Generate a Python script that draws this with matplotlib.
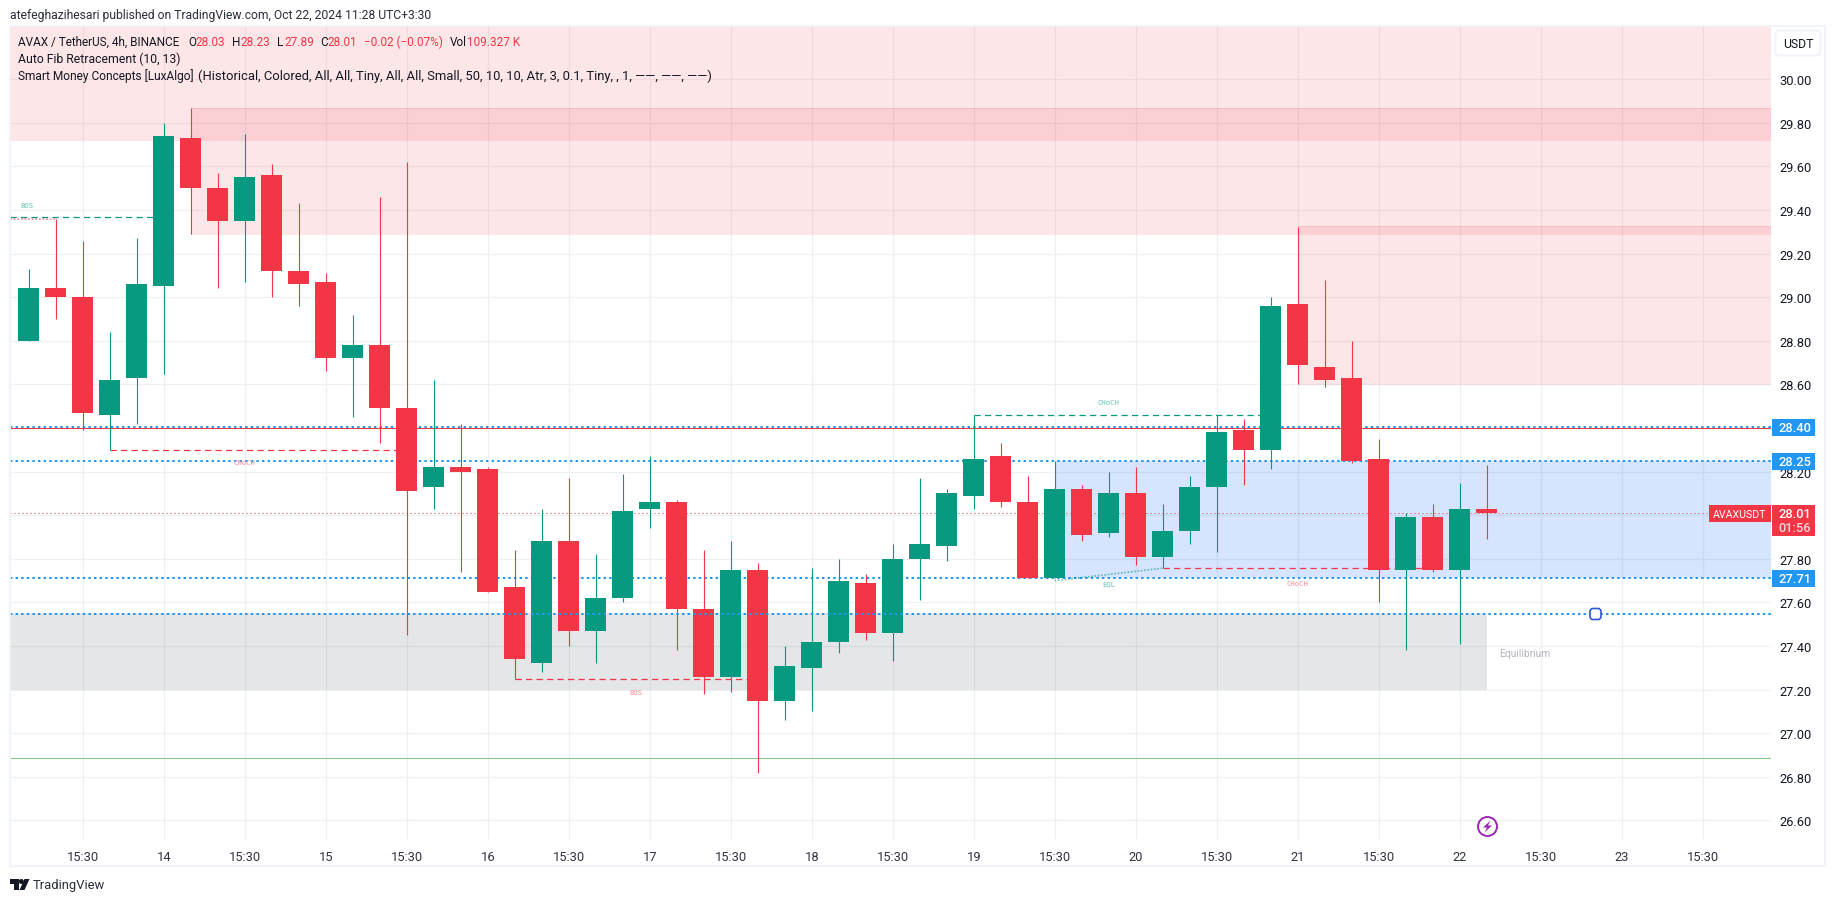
import matplotlib
matplotlib.use('Agg')
import matplotlib.pyplot as plt
from matplotlib.patches import Rectangle, FancyBboxPatch, Polygon, Circle

W, H = 1835, 903

# candles
opens = [28.80, 29.04, 29.00, 28.46, 28.63, 29.05, 29.73, 29.50, 29.35, 29.56, 29.12, 29.07, 28.72, 28.78,
         28.49, 28.13, 28.22, 28.21, 27.67, 27.32, 27.88, 27.47, 27.62, 28.03, 28.06, 27.57, 27.26, 27.75,
         27.15, 27.30, 27.42, 27.69, 27.46, 27.80, 27.86, 28.09, 28.27, 28.06, 27.71, 28.12, 27.92, 28.10,
         27.81, 27.93, 28.13, 28.39, 28.30, 28.97, 28.68, 28.63, 28.26, 27.75, 27.99, 27.75, 28.03]
highs = [29.13, 29.36, 29.26, 28.84, 29.27, 29.80, 29.87, 29.57, 29.75, 29.61, 29.43, 29.11, 28.92, 29.46,
         29.62, 28.62, 28.42, 28.22, 27.84, 28.03, 28.17, 27.82, 28.19, 28.27, 28.07, 27.84, 27.88, 27.78,
         27.40, 27.76, 27.80, 27.73, 27.87, 28.17, 28.12, 28.46, 28.33, 28.18, 28.25, 28.14, 28.20, 28.22,
         28.05, 28.18, 28.46, 28.44, 29.00, 29.32, 29.08, 28.80, 28.35, 28.01, 28.05, 28.15, 28.23]
lows = [28.80, 28.90, 28.39, 28.30, 28.42, 28.65, 29.29, 29.04, 29.07, 29.00, 28.96, 28.66, 28.45, 28.33,
        27.45, 28.03, 27.74, 27.65, 27.25, 27.28, 27.40, 27.32, 27.60, 27.94, 27.38, 27.18, 27.19, 26.82,
        27.06, 27.10, 27.37, 27.43, 27.33, 27.61, 27.79, 28.03, 28.04, 27.71, 27.71, 27.88, 27.90, 27.77,
        27.76, 27.87, 27.83, 28.14, 28.21, 28.60, 28.59, 28.24, 27.60, 27.38, 27.74, 27.41, 27.89]
closes = [29.04, 29.00, 28.47, 28.62, 29.06, 29.74, 29.50, 29.35, 29.55, 29.12, 29.06, 28.72, 28.78, 28.49,
          28.11, 28.22, 28.20, 27.65, 27.34, 27.88, 27.47, 27.62, 28.02, 28.06, 27.57, 27.26, 27.75, 27.15,
          27.31, 27.42, 27.70, 27.46, 27.80, 27.87, 28.10, 28.26, 28.06, 27.71, 28.12, 27.91, 28.10, 27.81,
          27.93, 28.13, 28.38, 28.30, 28.96, 28.69, 28.62, 28.25, 27.75, 27.99, 27.75, 28.03, 28.01]

price_ticks = [26.6, 26.8, 27.0, 27.2, 27.4, 27.6, 27.8, 28.0, 28.2, 28.4, 28.6, 28.8, 29.0, 29.2, 29.4, 29.6,
               29.8, 30.0]
# 28.00 and 28.40 sit behind the badges in the reference
price_labels = ['26.60', '26.80', '27.00', '27.20', '27.40', '27.60', '27.80', '', '28.20', '', '28.60', '28.80',
                '29.00', '29.20', '29.40', '29.60', '29.80', '30.00']
time_ticks = [2, 5, 8, 11, 14, 17, 20, 23, 26, 29, 32, 35, 38, 41, 44, 47, 50, 53, 56, 59, 62]
time_labels = ['15:30', '14', '15:30', '15', '15:30', '16', '15:30', '17', '15:30', '18', '15:30', '19', '15:30',
               '20', '15:30', '21', '15:30', '22', '15:30', '23', '15:30']

# fib levels and the last price
fib_levels = [28.405, 28.25, 27.71, 27.547]
fib_labels = ['28.40', '28.25', '27.71']
last_price = 28.01
red_level = 28.40
green_level = 26.885

GREEN = '#089981'
RED = '#f23645'
BLUE = '#2196f3'
GRID = '#eff0f3'
FRAME = '#f0f3fa'
TEXT = '#131722'
DASH = (0, (5, 3.4))
DOTS = (0, (1.2, 1.6))

plt.rcParams['font.family'] = ['Roboto', 'DejaVu Sans']

fig = plt.figure(figsize=(W / 100, H / 100), dpi=100)
ax = fig.add_axes([10 / W, 1 - 840 / H, (1771 - 10) / W, (840 - 27) / H])
ax.set_xlim(-0.693, 64.53)
ax.set_ylim(26.515, 30.244)
for s in ax.spines.values():
    s.set_visible(False)
ax.set_axisbelow(True)
ax.grid(color=GRID, lw=0.9)
ax.yaxis.tick_right()
ax.set_yticks(price_ticks)
ax.set_yticklabels(price_labels, fontsize=9.3, color=TEXT)
ax.set_xticks(time_ticks)
ax.set_xticklabels(time_labels, fontsize=9.3, color='#2f3341')
ax.tick_params(axis='both', length=0, pad=0)
ax.tick_params(axis='y', pad=6)
ax.tick_params(axis='x', pad=8)

# zones
ax.axhspan(29.72, 30.244, color=RED, alpha=0.12, lw=0, zorder=1)
ax.fill_between([6, 64.53], 29.29, 29.87, color=RED, alpha=0.12, lw=0, zorder=1)
ax.fill_between([47, 64.53], 28.60, 29.325, color=RED, alpha=0.12, lw=0, zorder=1)
ax.fill_between([38, 64.53], 27.71, 28.25, color='#2771f5', alpha=0.19, lw=0, zorder=1)
ax.fill_between([-0.693, 54], 27.20, 27.55, color='#787b86', alpha=0.19, lw=0, zorder=1)
for x0, y0, in [(6, 29.87), (6, 29.29), (47, 29.325), (47, 28.60), (-0.693, 29.72)]:
    ax.plot([x0, 64.53], [y0, y0], color=RED, alpha=0.12, lw=0.72, zorder=1.2)

# levels under the candles
for lev in fib_levels[:3]:
    ax.axhline(lev, color=BLUE, lw=1.44, ls=DOTS, zorder=2)
ax.axhline(red_level, color=RED, lw=0.75, zorder=2)
ax.axhline(green_level, color='#81c784', lw=0.75, zorder=2)
ax.axhline(last_price, color=RED, lw=0.72, ls=(0, (1, 3)), zorder=2)

# structure lines
ax.plot([-0.693, 5], [29.37, 29.37], color=GREEN, lw=0.9, ls=DASH, zorder=2)
ax.plot([-0.693, 1], [29.36, 29.36], color=RED, alpha=0.5, lw=1.3, ls=(0, (1, 1)), zorder=2)
ax.plot([3, 14], [28.30, 28.30], color=RED, lw=0.9, ls=DASH, zorder=2)
ax.plot([18, 27], [27.247, 27.247], color=RED, lw=0.9, ls=DASH, zorder=2)
ax.plot([35, 46], [28.46, 28.46], color=GREEN, lw=0.9, ls=DASH, zorder=2)
ax.plot([42, 52], [27.757, 27.757], color=RED, lw=0.9, ls=DASH, zorder=2)
ax.plot([38, 42], [27.70, 27.757], color=GREEN, alpha=0.6, lw=1.2, ls=(0, (1, 1)), zorder=2)

# candles
xs = list(range(len(opens)))
colors = [GREEN if c >= o else RED for o, c in zip(opens, closes)]
ax.vlines(xs, lows, highs, colors=colors, lw=0.8, zorder=3)
ax.bar(xs, [abs(c - o) for o, c in zip(opens, closes)], bottom=[min(o, c) for o, c in zip(opens, closes)],
       width=0.78, color=colors, lw=0, zorder=3.1)

ax.axhline(fib_levels[3], color=BLUE, lw=1.44, ls=DOTS, zorder=4)

# tiny structure labels
small = dict(fontsize=5.2, ha='center', va='center', family='DejaVu Sans Mono', zorder=4)
ax.text(-0.05, 29.425, 'BOS', color='#66c1b3', **small)
ax.text(8.0, 28.245, 'CHoCH', color='#f98b96', **small)
ax.text(22.5, 27.19, 'BOS', color='#f98b96', **small)
ax.text(40.0, 28.52, 'CHoCH', color='#66c1b3', **small)
ax.text(40.0, 27.69, 'EQL', color='#66c1b3', **small)
ax.text(47.0, 27.69, 'CHoCH', color='#f98b96', **small)
ax.text(54.45, 27.37, 'Equilibrium', color='#b2b5be', fontsize=7.4, ha='left', va='center', zorder=4)

# overlay in pixels for the TradingView chrome
ov = fig.add_axes([0, 0, 1, 1], zorder=5)
ov.set_xlim(0, W)
ov.set_ylim(H, 0)
ov.axis('off')
ov.patch.set_alpha(0)


def py(p):
    return H - ax.transData.transform((0, p))[1]


ov.add_patch(Rectangle((10, 26.5), 1815, 841, fill=False, ec=FRAME, lw=1.5))

for lab, lev in zip(fib_labels, fib_levels):
    y = py(lev) + 0.5
    ov.add_patch(Rectangle((1772, y - 8.5), 43, 17, fc=BLUE, ec='none'))
    ov.text(1794.5, y, lab, color='white', fontsize=9.3, fontweight='medium', ha='center', va='center')

y = py(last_price)
ov.add_patch(Rectangle((1772, y - 8), 43, 31, fc=RED, ec='none'))
ov.text(1794.5, y + 0.5, '28.01', color='white', fontsize=9.3, fontweight='medium', ha='center', va='center')
ov.text(1794.5, y + 14.5, '01:56', color='#fcd7da', fontsize=9.3, fontweight='medium', ha='center', va='center')
ov.add_patch(Rectangle((1709, y - 8), 62, 17, fc=RED, ec='none'))
ov.text(1740, y + 0.5, 'AVAXUSDT', color='white', fontsize=7.7, ha='center', va='center')

ov.add_patch(FancyBboxPatch((1775.5, 31.5), 45, 25, boxstyle='round,pad=0,rounding_size=4', fc='white', ec=FRAME,
                            lw=1.5))
ov.text(1798, 44.5, 'USDT', color=TEXT, fontsize=8.8, ha='center', va='center')

ov.add_patch(FancyBboxPatch((1590, py(fib_levels[3]) - 5.5), 11, 11, boxstyle='round,pad=0,rounding_size=3',
                            fc='white', ec='#3056d3', lw=1.2))

# lightning icon
ov.add_patch(Circle((1487.5, 827.5), 9.5, fc='white', ec='#9c27b0', lw=1.4))
ov.add_patch(Polygon([(1490.5, 821.5), (1483, 828.5), (1487, 828.5), (1484.5, 833.5), (1492, 826.5), (1488, 826.5)],
                     fc='#9c27b0', ec='none'))

# header and legend
ov.text(10, 15, 'atefeghazihesari published on TradingView.com, Oct 22, 2024 11:28 UTC+3:30', color='#2a2e39',
        fontsize=8.75, va='center')
legend_parts = [(18, 'AVAX / TetherUS, 4h, BINANCE', TEXT), (188, 'O', TEXT), (195, '28.03', RED), (232, 'H', TEXT),
                (240, '28.23', RED), (277, 'L', TEXT), (284, '27.89', RED), (320, 'C', TEXT), (327, '28.01', RED),
                (364, '\u22120.02 (\u22120.07%)', RED), (450, 'Vol', TEXT), (467, '109.327 K', RED)]
for x, s, c in legend_parts:
    ov.text(x, 42, s, color=c, fontsize=8.5, va='center')
ov.text(18, 59, 'Auto Fib Retracement (10, 13)', color=TEXT, fontsize=8.8, va='center')
ov.text(18, 76, 'Smart Money Concepts [LuxAlgo]', color=TEXT, fontsize=8.6, va='center')
ov.text(198, 76, '(Historical, Colored, All, All, Tiny, All, All, Small, 50, 10, 10, Atr, 3, 0.1, Tiny, , 1, '
        '\u2014\u2014, \u2014\u2014, \u2014\u2014)', color=TEXT, fontsize=9.4, va='center')

# logo
ov.add_patch(Polygon([(10, 880), (18.5, 880), (18.5, 891), (14, 891), (14, 885), (10, 885)], fc=TEXT, ec='none'))
ov.add_patch(Circle((21.3, 882.5), 2.5, fc=TEXT, ec='none'))
ov.add_patch(Polygon([(24.5, 880), (29.5, 880), (24.5, 891), (19.5, 891)], fc=TEXT, ec='none'))
ov.text(33, 885.5, 'TradingView', color='#2a2e39', fontsize=9.4, va='center')

fig.savefig('out.png', dpi=100)
